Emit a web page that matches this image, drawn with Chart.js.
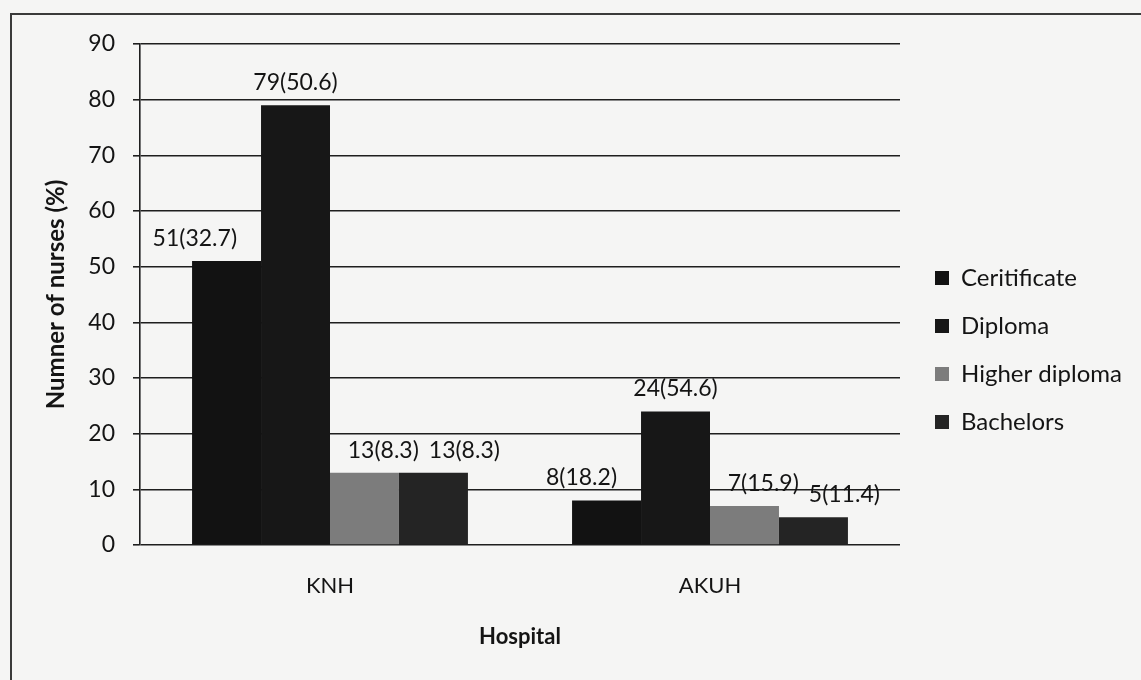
<!DOCTYPE html>
<html>
<head>
<meta charset="utf-8">
<script src="https://cdn.jsdelivr.net/npm/chart.js@4.4.1/dist/chart.umd.min.js"></script>
<style>
    html, body { margin: 0; padding: 0; background: #f5f5f4; overflow: hidden; }
    #frame { position: absolute; left: 10px; top: 13px; width: 1200px; height: 700px; border: 2px solid #3a3a3a; box-sizing: border-box; }
    #wrap { position: absolute; left: 0; top: 0; width: 1141px; height: 680px; }
</style>
</head>
<body>
<div id="frame"></div>
<div id="wrap"><canvas id="barChart"></canvas></div>
<script>
// データ
const hospitals = ['KNH', 'AKUH'];
const seriesNames = ['Ceritificate', 'Diploma', 'Higher diploma', 'Bachelors'];
const certCounts = [51, 8];
const diplomaCounts = [79, 24];
const higherCounts = [13, 7];
const bachelorCounts = [13, 5];
const certPct = ['32.7', '18.2'];
const diplomaPct = ['50.6', '54.6'];
const higherPct = ['8.3', '15.9'];
const bachelorPct = ['8.3', '11.4'];
const yTicks = [0, 10, 20, 30, 40, 50, 60, 70, 80, 90];

const barColors = ['#121212', '#171717', '#7c7c7c', '#242424'];
const textColor = '#141414';
const gridColor = '#1e1e1e';
const FONT = 'Lato, "Open Sans", sans-serif';

const counts = [certCounts, diplomaCounts, higherCounts, bachelorCounts];
const pcts = [certPct, diplomaPct, higherPct, bachelorPct];

// バーの上に n(%) を描く
// 隣の高いバーに重なる時は左へ、前のラベルに重なる時は右へずらす
const valueLabels = {
    id: 'valueLabels',
    afterDatasetsDraw(chart) {
        const ctx = chart.ctx;
        ctx.save();
        ctx.font = '23px ' + FONT;
        ctx.fillStyle = textColor;
        ctx.textAlign = 'center';
        ctx.textBaseline = 'alphabetic';
        const n = chart.data.labels.length;
        for (let j = 0; j < n; j++) {
            let prevRight = -Infinity;
            chart.data.datasets.forEach((ds, i) => {
                const bar = chart.getDatasetMeta(i).data[j];
                const txt = ds.data[j] + '(' + pcts[i][j] + ')';
                const w = ctx.measureText(txt).width;
                const y = bar.y - 15;
                let x = bar.x;
                const nextMeta = chart.getDatasetMeta(i + 1);
                const next = nextMeta && nextMeta.data ? nextMeta.data[j] : null;
                if (next && next.y < y) {
                    const nextLeft = next.x - next.width / 2;
                    if (x + w / 2 > nextLeft - 20) x = nextLeft - 24 - w / 2;
                }
                if (x - w / 2 < prevRight + 10) x = prevRight + 10 + w / 2;
                ctx.fillText(txt, x, y);
                prevRight = x + w / 2;
            });
        }
        ctx.restore();
    }
};

// 凡例の位置合わせ
const legendPlace = {
    id: 'legendPlace',
    beforeLayout(chart) {
        const lg = chart.legend;
        if (lg && !lg._patched) {
            const fit = lg.fit.bind(lg);
            lg.fit = function () { fit(); this.width = 241; };
            lg._patched = true;
        }
    },
    afterLayout(chart) {
        const lg = chart.legend;
        if (!lg) return;
        lg.left += 11; lg.right += 11;
        const dy = 242 - lg.top;
        lg.top += dy; lg.bottom += dy;
    }
};

const ctx = document.getElementById('barChart').getContext('2d');
new Chart(ctx, {
    type: 'bar',
    data: {
        labels: hospitals,
        datasets: seriesNames.map((name, i) => ({
            label: name,
            data: counts[i],
            backgroundColor: barColors[i],
            borderWidth: 0
        }))
    },
    options: {
        responsive: true,
        maintainAspectRatio: false,
        animation: false,
        categoryPercentage: 0.726,
        barPercentage: 1.0,
        layout: { padding: { left: 42, top: 44, right: 0, bottom: 0 } },
        scales: {
            x: {
                grid: { display: false, drawTicks: false },
                border: { display: false },
                ticks: { color: textColor, font: { family: FONT, size: 22 }, padding: 28 },
                title: { display: true, text: 'Hospital', color: textColor, font: { family: FONT, size: 22, weight: 'bold' }, padding: { top: 0, bottom: 30 } },
                afterFit: s => { s.height = 135; }
            },
            y: {
                min: 0, max: 90,
                afterBuildTicks: s => { s.ticks = yTicks.map(v => ({ value: v })); },
                grid: { color: gridColor, lineWidth: 1.6, tickLength: 7, drawTicks: true },
                border: { display: true, color: gridColor, width: 1.6 },
                ticks: { color: textColor, font: { family: FONT, size: 23 }, padding: 18 },
                title: { display: true, text: 'Numner of nurses (%)', color: textColor, font: { family: FONT, size: 24, weight: 'bold' }, padding: { top: 0, bottom: 0 } },
                afterFit: s => { s.width = 98; }
            }
        },
        plugins: {
            legend: {
                position: 'right',
                align: 'start',
                labels: { color: textColor, font: { family: FONT, size: 24 }, boxWidth: 14, boxHeight: 14, padding: 24 }
            },
            tooltip: { enabled: false }
        }
    },
    plugins: [valueLabels, legendPlace]
});
</script>
</body>
</html>
